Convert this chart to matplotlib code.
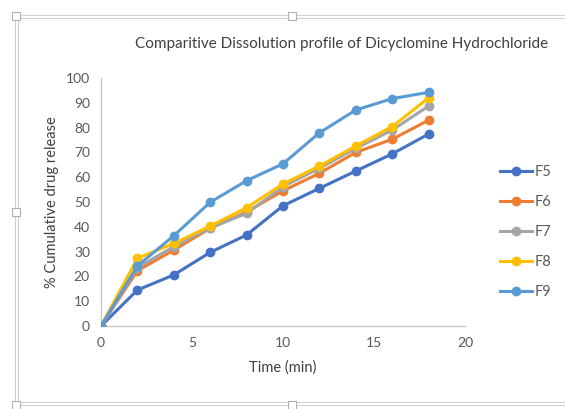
import matplotlib
matplotlib.use('Agg')
import matplotlib.pyplot as plt
from matplotlib.lines import Line2D
from matplotlib.patches import Rectangle

plt.rcParams['font.family'] = ['Lato', 'DejaVu Sans']

# Dissolution data: time in minutes, % cumulative release per formulation
time = [0, 2, 4, 6, 8, 10, 12, 14, 16, 18]
f5 = [0, 14.5, 20.6, 29.7, 36.7, 48.5, 55.5, 62.5, 69.4, 77.4]
f6 = [0, 22.3, 30.6, 39.4, 46.0, 54.5, 61.6, 70.0, 75.3, 83.0]
f7 = [0, 23.5, 32.0, 39.6, 45.4, 56.2, 63.6, 71.6, 79.0, 88.7]
f8 = [0, 27.3, 33.3, 40.3, 47.7, 57.3, 64.5, 72.6, 80.4, 92.0]
f9 = [0, 24.2, 36.4, 49.9, 58.6, 65.4, 77.9, 87.1, 91.7, 94.2]

labels = ['F5', 'F6', 'F7', 'F8', 'F9']
series = [f5, f6, f7, f8, f9]
colors = ['#4472C4', '#ED7D31', '#A5A5A5', '#FFC000', '#5B9BD5']

W, H = 565, 409
fig = plt.figure(figsize=(W / 100, H / 100), dpi=100)
ax = fig.add_axes([101 / W, (H - 326) / H, 364 / W, 248 / H])

for lab, vals, c in zip(labels, series, colors):
    ax.plot(time, vals, color=c, lw=2.2, marker='o', ms=6, label=lab,
            solid_capstyle='round', zorder=3)

ax.set_xlim(0, 20)
ax.set_ylim(0, 100)
ax.set_xticks(range(0, 21, 5))
ax.set_yticks(range(0, 101, 10))
ax.tick_params(length=0, labelsize=10, colors='#595959', pad=8)
for side in ['top', 'right']:
    ax.spines[side].set_visible(False)
for side in ['left', 'bottom']:
    ax.spines[side].set_color('#C8C8C8')
    ax.spines[side].set_linewidth(1.0)
    ax.spines[side].set_zorder(1)

ax.set_xlabel('Time (min)', fontsize=10.5, color='#404040', labelpad=8)
ax.set_ylabel('% Cumulative drug release', fontsize=10.5, color='#404040', labelpad=5)
fig.text(342 / W, 1 - 44 / H, 'Comparitive Dissolution profile of Dicyclomine Hydrochloride',
         ha='center', va='center', fontsize=11, color='#404040')

handles = [Line2D([], [], color=c, lw=2.2, marker='o', ms=6) for c in colors]
fig.legend(handles, labels, loc='center left', bbox_to_anchor=(487 / W, 1 - 232 / H),
           frameon=False, fontsize=10.5, labelspacing=1.1, handlelength=2.2,
           handletextpad=0.2, labelcolor='#595959')

# chart frame with selection handles
frame_kw = dict(color='#D0D0D0', lw=0.8, transform=fig.transFigure)
for off in (0, 3):
    fig.add_artist(Line2D([(15 + off) / W, 1.0], [1 - (15 + off) / H] * 2, **frame_kw))
    fig.add_artist(Line2D([(15 + off) / W] * 2, [1 - (15 + off) / H, 1 - (405 - off) / H], **frame_kw))
    fig.add_artist(Line2D([(15 + off) / W, 1.0], [1 - (405 - off) / H] * 2, **frame_kw))
for hx, hy in [(16, 16), (292, 16), (16, 212), (16, 405), (292, 405)]:
    fig.add_artist(Rectangle(((hx - 4) / W, 1 - (hy + 4) / H), 8 / W, 8 / H,
                             transform=fig.transFigure, facecolor='white',
                             edgecolor='#B0B0B0', lw=0.8, zorder=5))

fig.savefig('out.png', dpi=100)
